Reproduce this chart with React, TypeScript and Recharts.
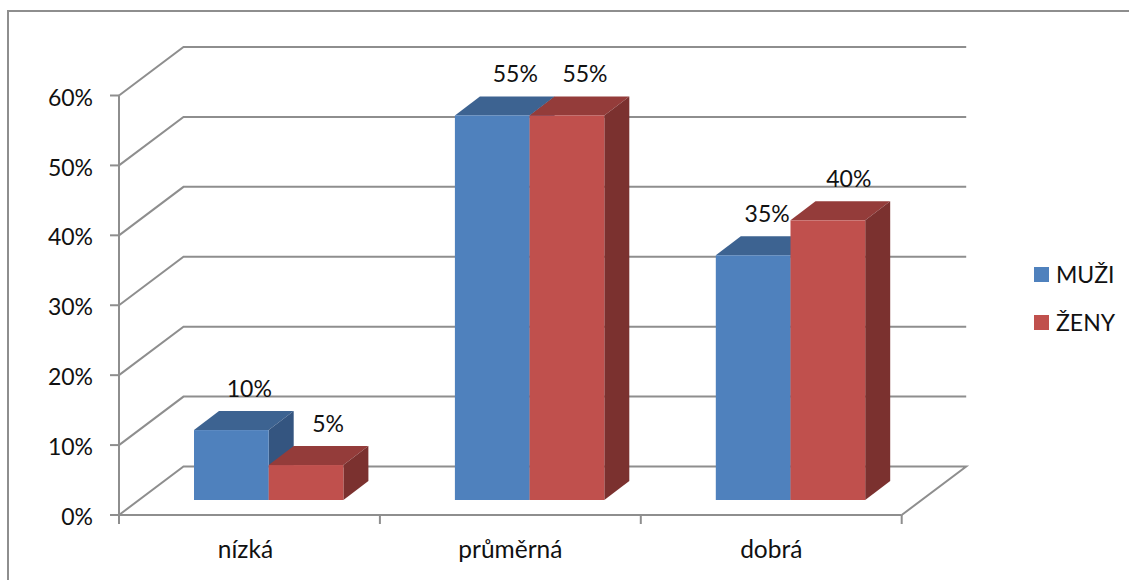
import { Bar, BarChart, CartesianGrid, LabelList, Legend, XAxis, YAxis } from "recharts"

const categories = ["nízká", "průměrná", "dobrá"]
const muzi = [10, 55, 35]
const zeny = [5, 55, 40]
const percentTicks = [0, 10, 20, 30, 40, 50, 60]

const data = categories.map((name, i) => ({ name, muzi: muzi[i], zeny: zeny[i] }))

const AXIS_COLOR = "#8e8e8e"
const FONT = "Lato, sans-serif"
const FONT_SIZE = 23
const CATEGORY_FONT_SIZE = 24.5
const TEXT_COLOR = "#111111"

const PLOT_LEFT = 119
const PLOT_RIGHT = 901.7
const BAND = (PLOT_RIGHT - PLOT_LEFT) / categories.length

// the fake 3D: how far the back wall sits from the axes, and how deep each box is
const WALL_DX = 64.5
const WALL_DY = -48.5
const BOX_SHIFT_X = 19
const BOX_SHIFT_Y = -15
const BOX_DX = 25
const BOX_DY = -19

// value labels were dragged around a bit by hand, these are per-category nudges
const muziLabelDx = [18, 23, 14]
const zenyLabelDx = [22, 18, 21]
const categoryLabelDx = [-4, 0, 0]

function wallLine(props: any) {
  const { x1, x2, y1, index } = props
  const backY = y1 + WALL_DY
  const isFloor = y1 >= props.y + props.height - 1
  let points = `${x1},${y1} ${x1 + WALL_DX},${backY} ${x2 + WALL_DX},${backY}`
  if (isFloor) points += ` ${x2},${y1}`
  return <polyline key={index} points={points} fill="none" stroke={AXIS_COLOR} strokeWidth={2} />
}

function box3d(front: string, top: string, side: string) {
  return (props: any) => {
    const { width, height } = props
    const x = props.x + BOX_SHIFT_X
    const y = props.y + BOX_SHIFT_Y
    const r = x + width
    const b = y + height
    return (
      <g>
        <polygon points={`${x},${y} ${r},${y} ${r + BOX_DX},${y + BOX_DY} ${x + BOX_DX},${y + BOX_DY}`} fill={top} />
        <polygon points={`${r},${y} ${r + BOX_DX},${y + BOX_DY} ${r + BOX_DX},${b + BOX_DY} ${r},${b}`} fill={side} />
        <rect x={x} y={y} width={width} height={height} fill={front} />
      </g>
    )
  }
}

function valueLabel(dxs: number[]) {
  return (props: any) => {
    const { x, y, width, value, index } = props
    return (
      <text
        x={x + BOX_SHIFT_X + width / 2 + dxs[index]} y={y - 48}
        textAnchor="middle" fontFamily={FONT} fontSize={FONT_SIZE} fill={TEXT_COLOR}
      >
        {value}%
      </text>
    )
  }
}

// category name centred in its band, tick marks on the band edges
function CategoryTick(props: any) {
  const { x, y, payload, index } = props
  const left = x - BAND / 2
  const axisY = y - 8
  return (
    <g>
      <line x1={left} x2={left} y1={axisY} y2={axisY + 9} stroke={AXIS_COLOR} strokeWidth={2} />
      {index === categories.length - 1 && (
        <line x1={left + BAND} x2={left + BAND} y1={axisY} y2={axisY + 9} stroke={AXIS_COLOR} strokeWidth={2} />
      )}
      <text
        x={x + categoryLabelDx[index]} y={axisY + 43}
        textAnchor="middle" fontFamily={FONT} fontSize={CATEGORY_FONT_SIZE} fill={TEXT_COLOR}
      >
        {payload.value}
      </text>
    </g>
  )
}

function SideLegend({ payload }: any) {
  return (
    <div style={{ fontFamily: FONT, fontSize: FONT_SIZE, color: TEXT_COLOR }}>
      {payload.map((item: any) => (
        <div key={item.value} style={{ display: "flex", alignItems: "center", height: 48 }}>
          <span style={{ width: 15, height: 15, background: item.color, marginRight: 7 }} />
          {item.value}
        </div>
      ))}
    </div>
  )
}

export default function App() {
  return (
    <div style={{ position: "absolute", left: 0, top: 0, width: 1129, height: 580, background: "#fff" }}>
      <div
        style={{
          position: "absolute", left: 6.5, top: 10, right: 0, bottom: 0,
          borderLeft: `2px solid ${AXIS_COLOR}`, borderTop: `2px solid ${AXIS_COLOR}`,
        }}
      />
      <BarChart
        width={1129} height={580} data={data}
        margin={{ top: 95.5, right: 1129 - PLOT_RIGHT, bottom: 35, left: PLOT_LEFT - 60 }}
        barSize={74.7} barGap={0}
        style={{ position: "absolute", left: 0, top: 0 }}
      >
        <CartesianGrid vertical={false} horizontal={wallLine} />
        <XAxis
          dataKey="name" height={30} interval={0}
          stroke={AXIS_COLOR} strokeWidth={2}
          tickLine={false} tick={<CategoryTick />}
        />
        <YAxis
          width={60} domain={[0, 60]} ticks={percentTicks} interval={0}
          stroke={AXIS_COLOR} strokeWidth={2}
          tickSize={9} tickMargin={17} tickFormatter={(v) => `${v}%`}
          tick={{ fontFamily: FONT, fontSize: FONT_SIZE, fill: TEXT_COLOR, dy: 2 }}
        />
        <Legend
          layout="vertical" align="center" verticalAlign="middle"
          wrapperStyle={{ position: "absolute", left: 1034, top: 250, width: 90 }}
          content={<SideLegend />}
        />
        <Bar dataKey="muzi" name="MUŽI" fill="#4f81bd" isAnimationActive={false} shape={box3d("#4f81bd", "#3d6391", "#345580")}>
          <LabelList dataKey="muzi" content={valueLabel(muziLabelDx)} />
        </Bar>
        <Bar dataKey="zeny" name="ŽENY" fill="#c0504d" isAnimationActive={false} shape={box3d("#c0504d", "#943c3a", "#7b312f")}>
          <LabelList dataKey="zeny" content={valueLabel(zenyLabelDx)} />
        </Bar>
      </BarChart>
    </div>
  )
}
